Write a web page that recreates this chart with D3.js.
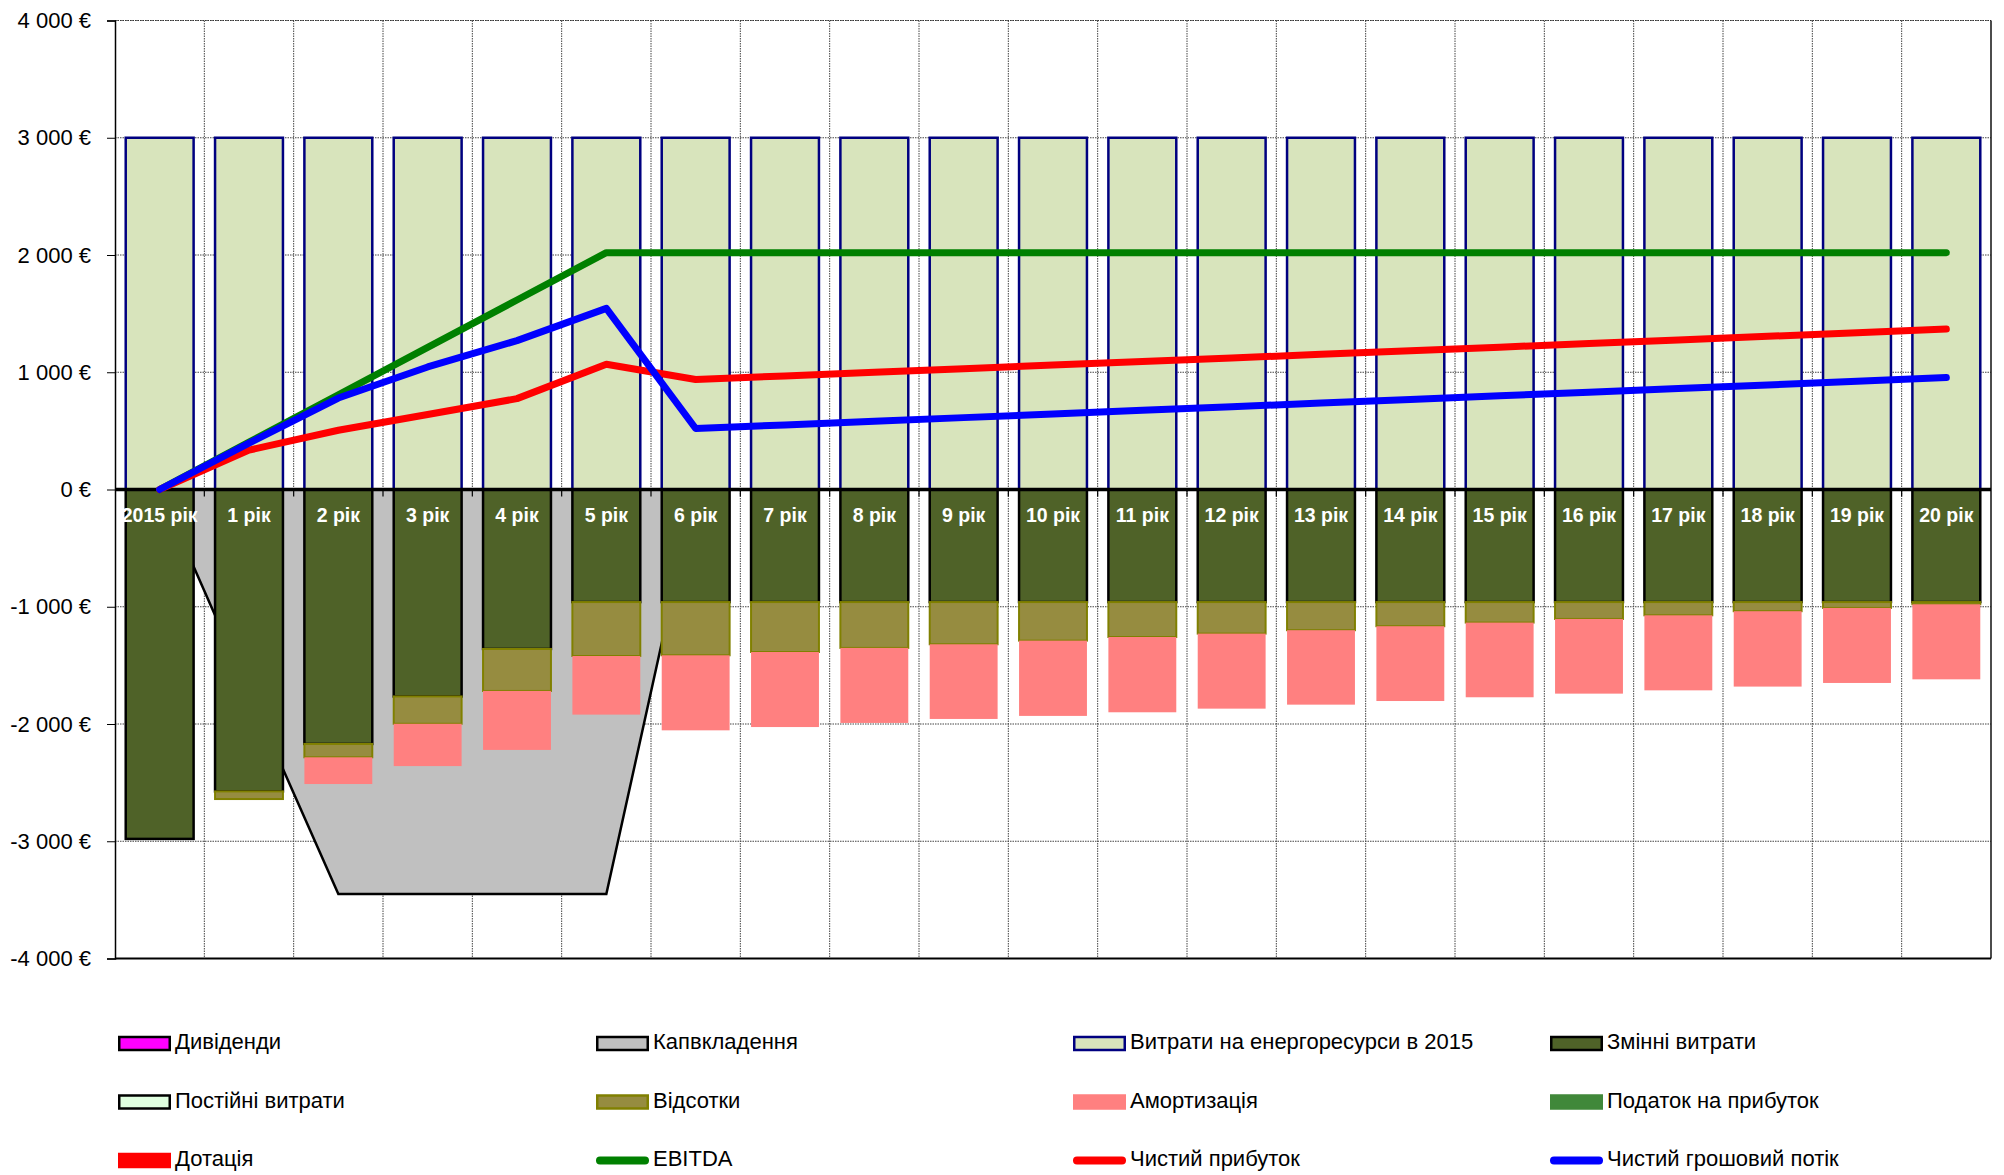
<!DOCTYPE html>
<html>
<head>
<meta charset="utf-8">
<script src="https://cdn.jsdelivr.net/npm/d3@7"></script>
<style>
  body { margin: 0; background: #fff; }
  svg { display: block; font-family: "Liberation Sans", Arial, sans-serif; }
</style>
</head>
<body>
<svg id="chart" width="2004" height="1175"></svg>
<script>
// ---- Data (EUR per year) ----
const categories = ["2015 рік", "1 рік", "2 рік", "3 рік", "4 рік", "5 рік", "6 рік", "7 рік", "8 рік", "9 рік", "10 рік",
  "11 рік", "12 рік", "13 рік", "14 рік", "15 рік", "16 рік", "17 рік", "18 рік", "19 рік", "20 рік"];

const energyCosts2015 = [3000, 3000, 3000, 3000, 3000, 3000, 3000, 3000, 3000, 3000, 3000,
  3000, 3000, 3000, 3000, 3000, 3000, 3000, 3000, 3000, 3000];
const variableCosts = [-2980, -2575, -2170, -1765, -1360, -960, -960, -960, -960, -960, -960,
  -960, -960, -960, -960, -960, -960, -960, -960, -960, -960];
const fixedCosts = [0, 0, 0, 0, 0, 0, 0, 0, 0, 0, 0, 0, 0, 0, 0, 0, 0, 0, 0, 0, 0];
const interest = [0, -65, -114, -233, -358, -460, -454, -426, -391, -360, -329,
  -298, -269, -240, -206, -175, -144, -113, -78, -50, -19];
const amortization = [0, 0, -228, -361, -503, -500, -640, -640, -640, -637, -642,
  -642, -640, -635, -638, -637, -637, -640, -643, -640, -640];
const incomeTax = [0, 0, 0, 0, 0, 0, 0, 0, 0, 0, 0, 0, 0, 0, 0, 0, 0, 0, 0, 0, 0];
const dividends = [0, 0, 0, 0, 0, 0, 0, 0, 0, 0, 0, 0, 0, 0, 0, 0, 0, 0, 0, 0, 0];
const subsidy = [0, 0, 0, 0, 0, 0, 0, 0, 0, 0, 0, 0, 0, 0, 0, 0, 0, 0, 0, 0, 0];
const capex = [0, -1730, -3450, -3450, -3450, -3450, 0, 0, 0, 0, 0, 0, 0, 0, 0, 0, 0, 0, 0, 0, 0];
const ebitda = [0, 404, 808, 1212, 1616, 2020, 2020, 2020, 2020, 2020, 2020,
  2020, 2020, 2020, 2020, 2020, 2020, 2020, 2020, 2020, 2020];
const netProfit = [0, 336, 505, 640, 775, 1068, 938, 969, 999, 1030, 1061,
  1091, 1122, 1153, 1184, 1214, 1245, 1276, 1306, 1337, 1368];
const netCashFlow = [0, 395, 780, 1045, 1270, 1545, 520, 551, 582, 613, 644,
  675, 706, 737, 768, 799, 830, 861, 892, 924, 955];

const yTickValues = [-4000, -3000, -2000, -1000, 0, 1000, 2000, 3000, 4000];
const yTickLabels = ["-4 000 €", "-3 000 €", "-2 000 €", "-1 000 €", "0 €", "1 000 €", "2 000 €", "3 000 €", "4 000 €"];

// Legend entries, in reading order (4 per row)
const legendNames = ["Дивіденди", "Капвкладення", "Витрати на енергоресурси в 2015", "Змінні витрати",
  "Постійні витрати", "Відсотки", "Амортизація", "Податок на прибуток",
  "Дотація", "EBITDA", "Чистий прибуток", "Чистий грошовий потік"];

// ---- Styles ----
const style = {
  "Дивіденди":                        { kind: "box", fill: "#FF00FF", stroke: "#000" },
  "Капвкладення":                     { kind: "box", fill: "#C0C0C0", stroke: "#000" },
  "Витрати на енергоресурси в 2015":  { kind: "box", fill: "#D8E4BC", stroke: "#000080" },
  "Змінні витрати":                   { kind: "box", fill: "#4F6228", stroke: "#000" },
  "Постійні витрати":                 { kind: "box", fill: "#E0FFE0", stroke: "#000" },
  "Відсотки":                         { kind: "box", fill: "#968C40", stroke: "#808000" },
  "Амортизація":                      { kind: "box", fill: "#FF8080", stroke: "none" },
  "Податок на прибуток":              { kind: "box", fill: "#40883A", stroke: "none" },
  "Дотація":                          { kind: "box", fill: "#FF0000", stroke: "none" },
  "EBITDA":                           { kind: "line", stroke: "#008000" },
  "Чистий прибуток":                  { kind: "line", stroke: "#FF0000" },
  "Чистий грошовий потік":            { kind: "line", stroke: "#0000FF" }
};

// ---- Layout ----
const plot = { left: 115, right: 1991, top: 20.5, bottom: 958.5 };
const svg = d3.select("#chart");

const x = d3.scaleBand().domain(categories).range([plot.left, plot.right]).paddingInner(0.24).paddingOuter(0.12);
const step = x.step();
const bandLeft = c => plot.left + categories.indexOf(c) * step;
const cx = c => x(c) + x.bandwidth() / 2;
const y = d3.scaleLinear().domain([-4000, 4000]).range([plot.bottom, plot.top]);

// Gridlines (dotted)
const grid = svg.append("g");
grid.selectAll("line.h").data(yTickValues.filter(v => v !== 0 && v !== -4000)).join("line")
  .attr("x1", plot.left).attr("x2", plot.right)
  .attr("y1", d => y(d)).attr("y2", d => y(d))
  .attr("stroke", "#444").attr("stroke-width", 1).attr("stroke-dasharray", "1.5,1");
grid.selectAll("line.v").data(categories.slice(1)).join("line")
  .attr("x1", d => bandLeft(d)).attr("x2", d => bandLeft(d))
  .attr("y1", plot.top).attr("y2", plot.bottom)
  .attr("stroke", "#444").attr("stroke-width", 1).attr("stroke-dasharray", "1.5,1");

// Capital investment area
const capexPts = categories.map((c, i) => ({ c, v: capex[i] }));
svg.append("path").datum(capexPts)
  .attr("d", d3.area().x(d => cx(d.c)).y0(y(0)).y1(d => y(d.v)))
  .attr("fill", "#C0C0C0").attr("stroke", "#000").attr("stroke-width", 2.5).attr("stroke-linejoin", "miter");

// Stacked columns: positive stack and negative stack
const posSeries = [["Витрати на енергоресурси в 2015", energyCosts2015], ["Дивіденди", dividends], ["Дотація", subsidy]];
const negSeries = [["Змінні витрати", variableCosts], ["Постійні витрати", fixedCosts], ["Відсотки", interest],
  ["Амортизація", amortization], ["Податок на прибуток", incomeTax]];

const segments = [];
categories.forEach((c, i) => {
  let up = 0, down = 0;
  posSeries.forEach(([name, arr]) => {
    const v = arr[i];
    if (v !== 0) segments.push({ c, name, y0: up, y1: up + v });
    up += v;
  });
  negSeries.forEach(([name, arr]) => {
    const v = arr[i];
    if (v !== 0) segments.push({ c, name, y0: down, y1: down + v });
    down += v;
  });
});

const strokeW = { "Витрати на енергоресурси в 2015": 2.5, "Змінні витрати": 2.5, "Відсотки": 2 };
svg.append("g").selectAll("rect").data(segments).join("rect")
  .attr("x", d => x(d.c))
  .attr("width", x.bandwidth())
  .attr("y", d => y(Math.max(d.y0, d.y1)))
  .attr("height", d => Math.abs(y(d.y0) - y(d.y1)))
  .attr("fill", d => style[d.name].fill)
  .attr("stroke", d => style[d.name].stroke)
  .attr("stroke-width", d => strokeW[d.name] || 0);

// Plot frame
svg.append("line").attr("x1", plot.left).attr("x2", plot.right).attr("y1", plot.top).attr("y2", plot.top)
  .attr("stroke", "#333").attr("stroke-width", 1.2).attr("stroke-dasharray", "1.5,1");
svg.append("line").attr("x1", plot.right).attr("x2", plot.right).attr("y1", plot.top).attr("y2", plot.bottom)
  .attr("stroke", "#111").attr("stroke-width", 1.5);
svg.append("line").attr("x1", plot.left).attr("x2", plot.right).attr("y1", plot.bottom).attr("y2", plot.bottom)
  .attr("stroke", "#000").attr("stroke-width", 2);

// Y axis
const yAxis = svg.append("g").attr("transform", `translate(${plot.left},0)`)
  .call(d3.axisLeft(y).tickValues(yTickValues).tickSize(8).tickPadding(16)
    .tickFormat((d, i) => yTickLabels[i]));
yAxis.select(".domain").attr("stroke", "#000").attr("stroke-width", 1.5);
yAxis.selectAll(".tick line").attr("stroke", "#000").attr("stroke-width", 1);
yAxis.selectAll(".tick text").attr("font-size", 22).attr("fill", "#000")
  .attr("font-family", "\"Liberation Sans\", Arial, sans-serif");

// Category axis along zero
const xAxis = svg.append("g");
xAxis.append("line").attr("x1", plot.left).attr("x2", plot.right).attr("y1", y(0)).attr("y2", y(0))
  .attr("stroke", "#000").attr("stroke-width", 3.5);
xAxis.selectAll("line.tick").data(categories.slice(1)).join("line")
  .attr("x1", d => bandLeft(d)).attr("x2", d => bandLeft(d))
  .attr("y1", y(0)).attr("y2", y(0) + 7)
  .attr("stroke", "#000").attr("stroke-width", 1.2);

// Lines
const lineGen = d3.line().x(d => cx(d.c)).y(d => y(d.v));
[["EBITDA", ebitda], ["Чистий прибуток", netProfit], ["Чистий грошовий потік", netCashFlow]].forEach(([name, arr]) => {
  svg.append("path").datum(categories.map((c, i) => ({ c, v: arr[i] })))
    .attr("d", lineGen).attr("fill", "none")
    .attr("stroke", style[name].stroke).attr("stroke-width", 7)
    .attr("stroke-linecap", "round").attr("stroke-linejoin", "round");
});

// Category labels, white on the columns below the zero line
svg.append("g").selectAll("text").data(categories).join("text")
  .attr("x", d => cx(d)).attr("y", y(0) + 27.5)
  .attr("text-anchor", "middle").attr("dominant-baseline", "middle")
  .attr("fill", "#fff").attr("font-weight", "bold").attr("font-size", 19.5)
  .text(d => d);

// Legend
const legend = svg.append("g");
const colX = [118, 596, 1073, 1550];
const rowY = [1043.5, 1102, 1160.5];
legendNames.forEach((name, i) => {
  const gx = colX[i % 4], gy = rowY[Math.floor(i / 4)];
  const s = style[name];
  const g = legend.append("g");
  if (s.kind === "line") {
    g.append("line").attr("x1", gx + 4).attr("x2", gx + 49).attr("y1", gy).attr("y2", gy)
      .attr("stroke", s.stroke).attr("stroke-width", 8).attr("stroke-linecap", "round");
  } else {
    g.append("rect").attr("x", gx + 1.25).attr("y", gy - 6.5).attr("width", 50.5).attr("height", 13)
      .attr("fill", s.fill)
      .attr("stroke", s.stroke === "none" ? s.fill : s.stroke).attr("stroke-width", 2.5);
  }
  g.append("text").attr("x", gx + 57).attr("y", gy).attr("dominant-baseline", "middle")
    .attr("font-size", 22).attr("fill", "#000").text(name);
});
</script>
</body>
</html>
